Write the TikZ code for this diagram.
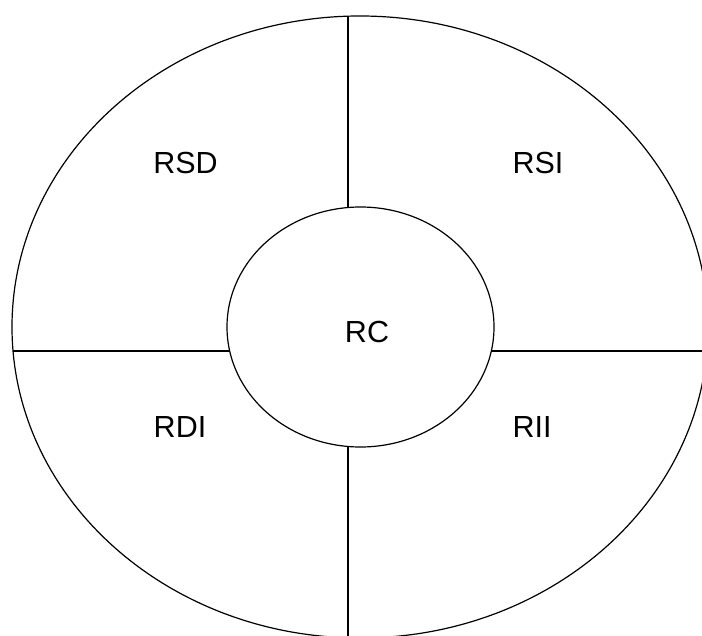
\documentclass[tikz,border=0pt]{standalone}
\usepackage{fontspec}
\setmainfont{Liberation Sans}
\usetikzlibrary{shapes.geometric}
\begin{document}
\begin{tikzpicture}[x=1bp,y=-1bp,
  ring/.style={draw=black,line width=1.2bp,ellipse,inner sep=0pt},
  divider/.style={draw=black,line width=1.2bp},
  lbl/.style={font=\fontsize{30.5bp}{32bp}\selectfont,inner sep=0pt}]
\useasboundingbox (0,0) rectangle (702,636);
\clip (0,0) rectangle (702,636);
\node[ring,minimum width=696bp,minimum height=622bp] (outer) at (360,327) {};
\node[ring,minimum width=267bp,minimum height=240bp] (inner) at (360.5,327) {};
\coordinate (vt) at (348,16.2);
\coordinate (vti) at (348,207.5);
\coordinate (vbi) at (348,446.5);
\coordinate (vb) at (348,640);
\coordinate (hl) at (13,351);
\coordinate (hli) at (229.7,351);
\coordinate (hri) at (491.3,351);
\coordinate (hr) at (706,351);
\draw[divider] (vt) -- (vti);
\draw[divider] (vbi) -- (vb);
\draw[divider] (hl) -- (hli);
\draw[divider] (hri) -- (hr);
\node[lbl] (rsd) at (185.5,163) {RSD};
\node[lbl] (rsi) at (538,163) {RSI};
\node[lbl] (rc) at (367,332) {RC};
\node[lbl] (rdi) at (180,427) {RDI};
\node[lbl] (rii) at (532,427) {RII};
\end{tikzpicture}
\end{document}
